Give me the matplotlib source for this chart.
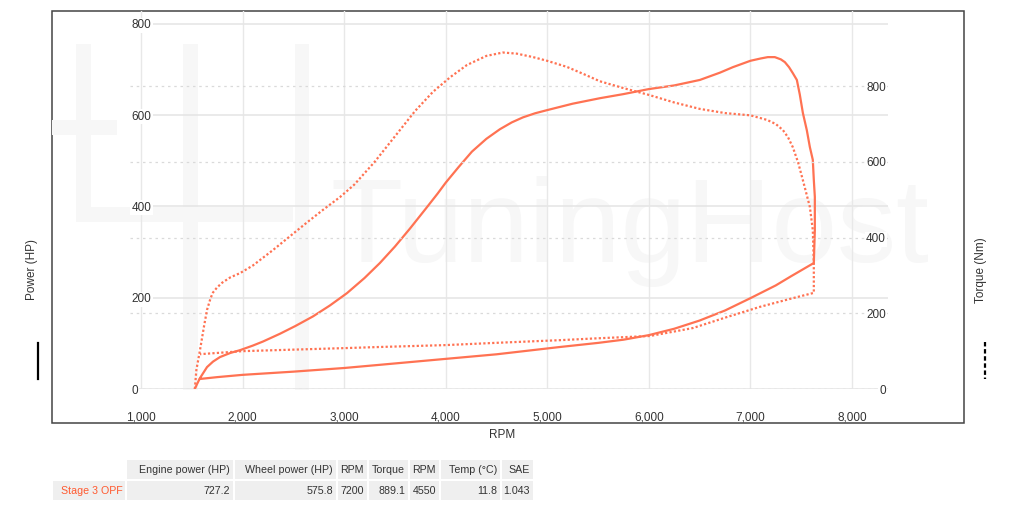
import matplotlib
matplotlib.use("Agg")
import matplotlib.pyplot as plt
from matplotlib.patches import Rectangle
from matplotlib.lines import Line2D

plt.rcParams['font.family'] = ['Liberation Sans', 'DejaVu Sans']

# power run (up the pull, then coast down), rpm / hp
power_rpm = [1530, 1550, 1581, 1650, 1709, 1778, 1880, 1974, 2100, 2201, 2368, 2520,
             2693, 2860, 3028, 3200, 3352, 3500, 3650, 3800, 3920, 4000, 4130, 4258,
             4400, 4533, 4650, 4760, 4880, 5000, 5250, 5518, 5750, 6000, 6250, 6502,
             6700, 6827, 7000, 7100, 7171, 7240, 7300, 7339, 7380, 7417, 7457, 7486,
             7516, 7555, 7585, 7614, 7624, 7634, 7634, 7624,
             7400, 7250, 7000, 6750, 6500, 6250, 6000, 5750, 5500, 5124, 4500, 4000,
             3352, 3000, 2500, 2000, 1750, 1581]
power_hp = [0, 10, 24, 48, 60, 70, 79, 85, 95, 104, 121, 138,
            159, 183, 210, 243, 276, 312, 352, 394, 428, 452, 487, 520,
            548, 569, 584, 595, 604, 611, 625, 637, 646, 657, 665, 677,
            693, 705, 719, 724, 727, 727, 722, 716, 705, 692, 677, 645,
            605, 567, 530, 502, 458, 421, 348, 276,
            247, 227, 199, 172, 150, 132, 118, 108, 101, 92, 76, 66,
            53, 46, 38, 31, 26, 22]

# torque run, rpm / Nm
torque_rpm = [1530, 1545, 1581, 1620, 1650, 1685, 1709, 1748, 1800, 1880, 1974, 2100,
              2299, 2450, 2634, 2800, 2959, 3100, 3300, 3549, 3700, 3874, 4050, 4209,
              4400, 4563, 4700, 4858, 5000, 5193, 5350, 5518, 5750, 6000, 6250, 6502,
              6750, 7000, 7163, 7250, 7320, 7370, 7417, 7470, 7516, 7555, 7585, 7614,
              7624, 7624,
              7417, 7093, 6768, 6433, 6010, 5500, 5124, 4500, 4000, 3352, 3000, 2000,
              1581]
torque_nm = [0, 50, 103, 165, 209, 240, 255, 268, 281, 295, 306, 326,
             367, 400, 440, 475, 507, 540, 600, 684, 735, 785, 825, 856,
             880, 889, 886, 877, 867, 851, 833, 813, 795, 777, 757, 740,
             729, 723, 711, 700, 684, 665, 639, 598, 552, 512, 481, 420,
             333, 254,
             240, 217, 190, 161, 140, 134, 129, 122, 116, 111, 108, 100,
             92]

x_ticks = [1000, 2000, 3000, 4000, 5000, 6000, 7000, 8000]
power_ticks = [0, 200, 400, 600, 800]
torque_ticks = [0, 200, 400, 600, 800]

table_head = ["Engine power (HP)", "Wheel power (HP)", "RPM", "Torque", "RPM",
              "Temp (°C)", "SAE"]
run_name = "Stage 3 OPF"
table_vals = ["727.2", "575.8", "7200", "889.1", "4550", "11.8", "1.043"]

line_col = '#ff7252'
txt_col = '#333333'
mark_col = '#f7f7f7'
W, H = 1024, 518


def fx(px):
    return px / W


def fy(py):
    return 1 - py / H


fig = plt.figure(figsize=(10.24, 5.18), dpi=100)

# plot area in pixels: x 130..888, y 11..389
ax = fig.add_axes([fx(130), fy(389), fx(888 - 130), (389 - 11) / H])
ax2 = ax.twinx()
ax.set_zorder(1)
ax2.set_zorder(2)
ax.patch.set_visible(False)
ax2.patch.set_visible(False)

ax.set_xlim(1000 - 11 / 0.1016, 8000 + 36 / 0.1016)
ax.set_ylim(0, 378 / 0.4565)
ax2.set_ylim(0, 378 / 0.3785)

for a in (ax, ax2):
    for s in a.spines.values():
        s.set_visible(False)

# watermark
fig.text(fx(330), fy(262), "TuningHost", fontsize=85, color=mark_col,
         ha='left', va='baseline', zorder=0.3)

ax.set_xticks(x_ticks)
ax.set_xticklabels([f"{v:,}" for v in x_ticks])
ax.set_yticks(power_ticks)
ax.set_yticklabels([str(v) for v in power_ticks])
ax2.set_yticks(torque_ticks)
ax2.set_yticklabels([str(v) for v in torque_ticks])

ax.grid(True, axis='x', color='#e8e8e8', lw=1)
ax.grid(True, axis='y', color='#e6e6e6', lw=1.2)
ax2.grid(True, axis='y', color='#dadada', lw=0.9, ls=(0, (2, 3)))
ax.set_axisbelow(True)
ax2.set_axisbelow(True)

ax.tick_params(axis='x', length=0, pad=16, labelsize=8.5, labelcolor=txt_col)
ax.tick_params(axis='y', length=0, pad=-1, labelsize=8.5, labelcolor=txt_col)
ax2.tick_params(axis='y', length=0, pad=-1.5, labelsize=8.5, labelcolor=txt_col)
for t in ax.yaxis.get_major_ticks():
    t.label1.set_horizontalalignment('left')
    t.label1.set_bbox(dict(fc='white', ec='none', pad=1))
for t in ax2.yaxis.get_major_ticks():
    t.label2.set_horizontalalignment('right')
    t.label2.set_bbox(dict(fc='white', ec='none', pad=1))

ax.plot(power_rpm, power_hp, color=line_col, lw=1.6, zorder=3,
        solid_joinstyle='round')
ax2.plot(torque_rpm, torque_nm, color=line_col, lw=1.6, ls=(0, (1, 1)), zorder=3)

# outer frame
fig.add_artist(Rectangle((fx(52), fy(423)), fx(964 - 52), (423 - 11) / H,
                         transform=fig.transFigure, fill=False, ec='#444444', lw=1.1,
                         zorder=0.1))

# watermark logo bars
bars = [(76, 44, 15, 178), (52, 120, 65, 15), (76, 207, 217, 15),
        (183, 44, 15, 346), (295, 44, 14, 346)]
for bx, by, bw, bh in bars:
    fig.add_artist(Rectangle((fx(bx), fy(by + bh)), fx(bw), bh / H,
                             transform=fig.transFigure, fc=mark_col, ec='none',
                             zorder=0.5))

fig.text(fx(32), fy(270), "Power (HP)", rotation=90, ha='center', va='center',
         fontsize=8.5, color=txt_col)
fig.text(fx(981), fy(270), "Torque (Nm)", rotation=90, ha='center', va='center',
         fontsize=8.5, color=txt_col)
fig.text(fx(502), fy(435), "RPM", ha='center', va='center', fontsize=8.5,
         color=txt_col)

# line style keys
fig.add_artist(Line2D([fx(38), fx(38)], [fy(343), fy(379)], color='black', lw=1.6))
fig.add_artist(Line2D([fx(985), fx(985)], [fy(342), fy(379)], color='black', lw=1.6,
                      ls=(0, (2, 1.2))))

# results table
col_edges = [(127, 233), (235, 336), (338, 367), (369, 408), (410, 439), (441, 500),
             (502, 533)]
cell_bg = '#efefef'
for (x0, x1), head, val in zip(col_edges, table_head, table_vals):
    fig.add_artist(Rectangle((fx(x0), fy(479)), fx(x1 - x0), 19 / H,
                             transform=fig.transFigure, fc=cell_bg, ec='none'))
    fig.add_artist(Rectangle((fx(x0), fy(500)), fx(x1 - x0), 19 / H,
                             transform=fig.transFigure, fc=cell_bg, ec='none'))
    fig.text(fx(x1 - 3), fy(470), head, ha='right', va='center', fontsize=7.7,
             color=txt_col)
    fig.text(fx(x1 - 3), fy(490.5), val, ha='right', va='center', fontsize=7.7,
             color=txt_col)
fig.add_artist(Rectangle((fx(53), fy(500)), fx(125 - 53), 19 / H,
                         transform=fig.transFigure, fc=cell_bg, ec='none'))
fig.text(fx(123), fy(490.5), run_name, ha='right', va='center', fontsize=7.7,
         color='#ff5a30')

fig.savefig("out.png", dpi=100)
